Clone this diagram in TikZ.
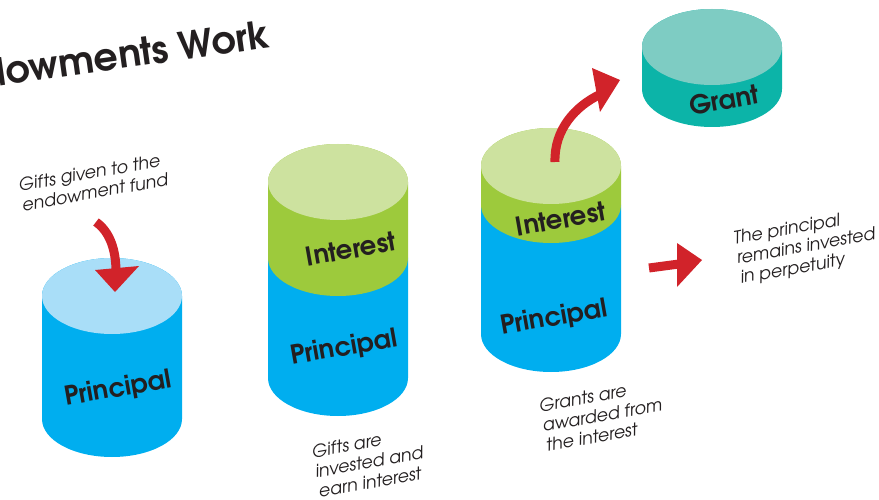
\documentclass[tikz,border=0pt]{standalone}
\usepackage{fontspec}
\setmainfont{texgyreadventor}[Extension=.otf, UprightFont=*-regular, BoldFont=*-bold, ItalicFont=*-italic, BoldItalicFont=*-bolditalic]
\definecolor{blueside}{HTML}{00AEEF}
\definecolor{bluetop}{HTML}{A9DEF8}
\definecolor{greenside}{HTML}{9DCA3C}
\definecolor{greentop}{HTML}{CDE29F}
\definecolor{tealside}{HTML}{0CB4A8}
\definecolor{tealtop}{HTML}{7ECCC3}
\definecolor{arrowred}{HTML}{D1232A}
\definecolor{ink}{HTML}{231F20}

% #1 centre x, #2 upper ellipse y, #3 lower ellipse y, #4 colour
\newcommand{\drumband}[4]{%
  \fill[#4] (#1-70,#2) -- (#1-70,#3) arc[start angle=180, end angle=360, x radius=70pt, y radius=38pt]
    -- (#1+70,#2) arc[start angle=0, end angle=180, x radius=70pt, y radius=38pt] -- cycle;}
\newcommand{\drumtop}[3]{%
  \fill[#3] (#1,#2) ellipse[x radius=70pt, y radius=38pt];}

\tikzset{
  drumlabel/.style={font=\bfseries\fontsize{26}{26}\selectfont, text=ink, rotate=10},
  caption/.style={font=\itshape\fontsize{17.5}{20}\selectfont, text=ink, align=left, rotate=10},
  shaft/.style={draw=arrowred, line width=9pt},
  head/.style={fill=arrowred}
}

\begin{document}
\begin{tikzpicture}[x=1pt, y=-1pt]
\useasboundingbox (0,0) rectangle (879,500);

% title
\node[font=\bfseries\fontsize{38}{38}\selectfont, text=ink, rotate=8, anchor=base east] (title) at (275,47) {How Endowments Work};

% first drum: principal only
\drumband{112}{296}{419}{blueside}
\drumtop{112}{296}{bluetop}
\node[drumlabel] (p1) at (118,389) {Principal};

% second drum: principal with interest on top
\drumband{338}{258}{378}{blueside}
\drumband{338}{182}{258}{greenside}
\drumtop{338}{182}{greentop}
\node[drumlabel] (i2) at (351,249) {Interest};
\node[drumlabel] (p2) at (344,348) {Principal};

% third drum
\drumband{551}{205}{334}{blueside}
\drumband{551}{166}{205}{greenside}
\drumtop{551}{166}{greentop}
\node[drumlabel] (i3) at (561,219) {Interest};
\node[drumlabel] (p3) at (554,318) {Principal};

% grant disc
\drumband{712}{47}{89}{tealside}
\drumtop{712}{47}{tealtop}
\node[drumlabel] (g) at (724,100) {Grant};

% captions
\node[caption] (c1) at (93,182) {Gifts given to the\\endowment fund};
\node[caption] (c2) at (369,462) {Gifts are\\invested and\\earn interest};
\node[caption] (c3) at (602,415) {Grants are\\awarded from\\the interest};
\node[caption] (c4) at (806,247) {The principal\\remains invested\\in perpetuity};

% gift arrow into the first drum
\coordinate (a1s) at (96,222);
\coordinate (a1e) at (116,272);
\draw[shaft] (a1s) .. controls (110,232) and (116,250) .. (a1e);
\fill[head] (95,270) -- (139,266) -- (115,292) -- cycle;

% grant arrow out of the interest
\coordinate (a2s) at (555,162);
\coordinate (a2e) at (601,94);
\draw[shaft] (a2s) .. controls (554,130) and (575,106) .. (a2e);
\fill[head] (592,68) -- (620,80) -- (600,112) -- cycle;

% principal stays invested
\coordinate (a3s) at (649,268);
\coordinate (a3e) at (679,264);
\draw[shaft] (a3s) -- (a3e);
\fill[head] (677,243) -- (702,260) -- (677,287) -- cycle;
\end{tikzpicture}
\end{document}
